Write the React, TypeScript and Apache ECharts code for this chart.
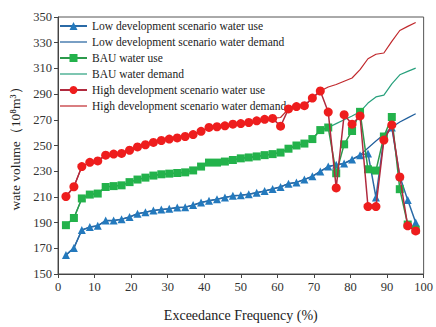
import React, { useEffect, useRef } from "react";
import * as echarts from "echarts";

const freq = [2.17, 4.35, 6.52, 8.7, 10.87, 13.04, 15.22, 17.39, 19.57, 21.74, 23.91, 26.09, 28.26, 30.43, 32.61, 34.78, 36.96, 39.13, 41.3, 43.48, 45.65, 47.83, 50.0, 52.17, 54.35, 56.52, 58.7, 60.87, 63.04, 65.22, 67.39, 69.57, 71.74, 73.91, 76.09, 78.26, 80.43, 82.61, 84.78, 86.96, 89.13, 91.3, 93.48, 95.65, 97.83];

const lowUse = [164.7, 170.3, 184.2, 186.5, 187.5, 191.6, 191.6, 192.6, 194.4, 196.9, 198.1, 199.4, 200.2, 200.7, 201.7, 202, 203.6, 205.7, 207, 208.2, 209.6, 210.8, 211.3, 212.1, 213.3, 214.6, 216.2, 217.8, 220.3, 221.3, 223.5, 226, 229.8, 233.6, 235, 236, 239.2, 242.5, 243.8, 209.6, 256, 264, 226, 207.5, 190];
const lowDemand = [164.7, 170.3, 184.2, 186.5, 187.5, 191.6, 191.6, 192.6, 194.4, 196.9, 198.1, 199.4, 200.2, 200.7, 201.7, 202, 203.6, 205.7, 207, 208.2, 209.6, 210.8, 211.3, 212.1, 213.3, 214.6, 216.2, 217.8, 220.3, 221.3, 223.5, 226, 229.8, 233.6, 235, 236, 239.2, 242.5, 248, 253.5, 258.5, 264.2, 268.3, 271.5, 274.7];

const bauUse = [188, 193.6, 208.8, 211.8, 212.6, 217.7, 218.4, 219, 221.5, 223.5, 225, 226.6, 227.6, 228.1, 228.6, 229.1, 230.6, 233.6, 236.7, 236.7, 237.5, 238.7, 240, 240.7, 241.5, 242.5, 243.3, 244.5, 247.5, 250, 251.5, 255, 262, 264, 228.4, 250.9, 261.3, 276.2, 231.5, 230.5, 257, 272.2, 216, 188.5, 184.5];
const bauDemand = [188, 193.6, 208.8, 211.8, 212.6, 217.7, 218.4, 219, 221.5, 223.5, 225, 226.6, 227.6, 228.1, 228.6, 229.1, 230.6, 233.6, 236.7, 236.7, 237.5, 238.7, 240, 240.7, 241.5, 242.5, 243.3, 244.5, 247.5, 250, 251.5, 255, 262, 264, 267, 270, 273, 276.2, 283, 287.8, 289.2, 298, 305, 307.7, 310.2];

const highUse = [210.3, 217.9, 233.6, 236.9, 238, 242.5, 243.3, 243.8, 246.3, 248.9, 250.6, 252.4, 253.9, 255, 255.9, 257, 258.5, 261, 264.1, 264.6, 265.3, 266.6, 267.1, 267.9, 269.2, 270.4, 271.1, 265, 278.5, 280.3, 281, 286.9, 292.4, 276, 217, 274, 266.6, 273, 202.5, 202.5, 254.2, 266, 225.5, 187.5, 183.5];
const highDemand = [210.3, 217.9, 233.6, 236.9, 238, 242.5, 243.3, 243.8, 246.3, 248.9, 250.6, 252.4, 253.9, 255, 255.9, 257, 258.5, 261, 264.1, 264.6, 265.3, 266.6, 267.1, 267.9, 269.2, 270.4, 271.1, 271.8, 278.5, 280.3, 281, 286.9, 292.4, 295.5, 297.5, 300, 302.5, 309, 317.5, 321, 322, 331, 339.5, 342.7, 345.7];

const seriesNames = [
  "Low development scenario water use",
  "Low development scenario water demand",
  "BAU water use",
  "BAU water demand",
  "High development scenario water use",
  "High development scenario water demand",
];

const FONT = "'Liberation Serif', 'DejaVu Serif', serif";

function pairs(ys: number[]) {
  return ys.map((y, i) => [freq[i], y]);
}

export default function App() {
  const ref = useRef<HTMLDivElement>(null);
  useEffect(() => {
    document.body.style.margin = "0";
    const chart = echarts.init(ref.current!, null, { renderer: "svg" });
    const demandColors = ["#1f5e9c", "#27a07c", "#c0282c"];
    const useSeries = (name: string, data: number[], symbol: string, size: number, mark: string, line: string, z: number) => ({
      name,
      type: "line",
      data: pairs(data),
      symbol,
      symbolSize: size,
      showSymbol: true,
      z,
      itemStyle: { color: mark, borderWidth: 0 },
      lineStyle: { color: line, width: 1.5 },
    });
    const demandSeries = (name: string, data: number[], color: string) => ({
      name,
      type: "line",
      data: pairs(data),
      symbol: "none",
      showSymbol: false,
      z: 2,
      itemStyle: { color },
      lineStyle: { color, width: 1.2 },
    });
    chart.setOption({
      animation: false,
      grid: { left: 55, right: 11, top: 17, bottom: 47, show: true, borderColor: "#555", borderWidth: 1, backgroundColor: "transparent" },
      legend: {
        orient: "vertical",
        left: 59,
        top: 20,
        itemWidth: 27,
        itemHeight: 10,
        itemGap: 4,
        padding: 0,
        textStyle: { fontFamily: FONT, fontSize: 11.5, lineHeight: 12, color: "#222" },
        data: seriesNames.map((n, i) =>
          i % 2 === 1
            ? {
                name: n,
                itemStyle: { color: "rgba(0,0,0,0)", borderColor: "rgba(0,0,0,0)", borderWidth: 0 },
                lineStyle: { color: demandColors[(i - 1) / 2], width: 1.2 },
              }
            : { name: n }
        ),
      },
      xAxis: {
        type: "value",
        min: 0,
        max: 100,
        interval: 10,
        name: "Exceedance Frequency (%)",
        nameLocation: "middle",
        nameGap: 34,
        nameTextStyle: { fontFamily: FONT, fontSize: 14, color: "#222" },
        axisLine: { lineStyle: { color: "#444" } },
        axisTick: { show: true, inside: false, length: 4, lineStyle: { color: "#444" } },
        axisLabel: { fontFamily: FONT, fontSize: 12.5, color: "#333", margin: 6 },
        splitLine: { show: false },
      },
      yAxis: {
        type: "value",
        min: 150,
        max: 350,
        interval: 20,
        name: "wate volume（10⁸m³）",
        nameLocation: "middle",
        nameGap: 36,
        nameTextStyle: { fontFamily: FONT, fontSize: 13.5, color: "#222" },
        axisLine: { show: true, lineStyle: { color: "#444" } },
        axisTick: { show: true, inside: false, length: 4, lineStyle: { color: "#444" } },
        axisLabel: { fontFamily: FONT, fontSize: 12.5, color: "#333", margin: 6 },
        splitLine: { show: false },
      },
      series: [
        useSeries(seriesNames[0], lowUse, "triangle", 8, "#2379bd", "#2a6aa6", 3),
        demandSeries(seriesNames[1], lowDemand, demandColors[0]),
        useSeries(seriesNames[2], bauUse, "rect", 8, "#23b24b", "#2c9a4c", 4),
        demandSeries(seriesNames[3], bauDemand, demandColors[1]),
        useSeries(seriesNames[4], highUse, "circle", 9, "#ee1d1d", "#b02a3e", 5),
        demandSeries(seriesNames[5], highDemand, demandColors[2]),
      ],
    });
    return () => chart.dispose();
  }, []);
  return <div ref={ref} style={{ width: 436, height: 327 }} />;
}
